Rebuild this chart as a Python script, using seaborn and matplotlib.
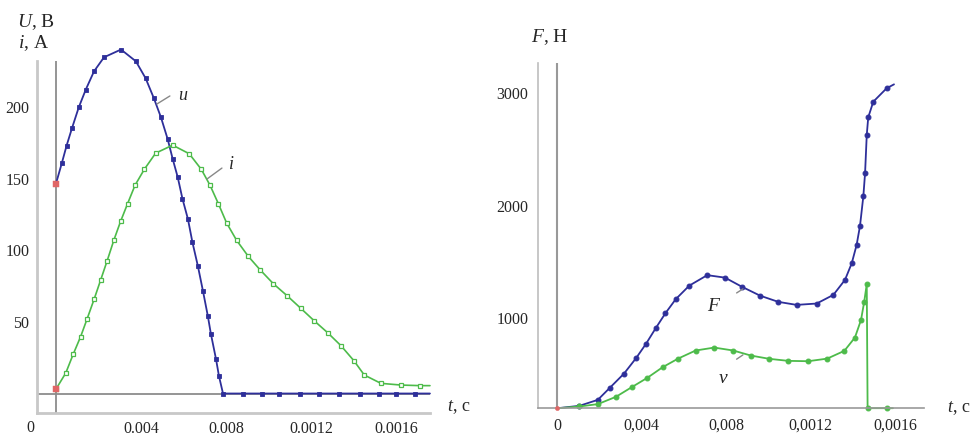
import matplotlib
matplotlib.use("Agg")
import matplotlib.pyplot as plt
from matplotlib.ticker import MultipleLocator
import seaborn as sns

# time axis is in the units the tick labels use (label "0.004" sits at 4)
# left panel: voltage u (V) and current i (A)
t_u = [0, 0.27, 0.50, 0.75, 1.07, 1.40, 1.79, 2.26, 3.06, 3.76, 4.22, 4.61, 4.94,
       5.26, 5.49, 5.73, 5.95, 6.21, 6.42, 6.68, 6.92, 7.15, 7.29, 7.53, 7.67, 7.86,
       8.8, 9.7, 10.5, 11.5, 12.4, 13.3, 14.3, 15.2, 16.0, 16.9, 17.6]
u_vals = [146.5, 160.5, 173, 185, 199.6, 212, 224.8, 234.6, 240, 231.8, 219.9, 205.9, 192.7,
          177.3, 163.8, 150.9, 136, 121.7, 105.6, 88.8, 71.3, 53.8, 41.6, 24.1, 12.2, 0,
          0, 0, 0, 0, 0, 0, 0, 0, 0, 0, 0]

t_i = [0, 0.46, 0.81, 1.16, 1.47, 1.79, 2.10, 2.41, 2.73, 3.04, 3.37, 3.72, 4.16, 4.69,
       5.49, 6.27, 6.84, 7.25, 7.64, 8.03, 8.50, 9.05, 9.60, 10.23, 10.88, 11.51, 12.14,
       12.78, 13.41, 14.02, 14.51, 15.29, 16.24, 17.13, 17.6]
i_vals = [3.1, 14.3, 27.4, 39.7, 52.3, 65.6, 79.1, 92.7, 107.3, 120.1, 132.5, 145.3, 156.5,
          167.7, 173.3, 167.3, 156.4, 145.3, 132.5, 119, 106.9, 95.7, 86.4, 76.6, 68.2,
          59.6, 50.9, 42.5, 33.4, 22.9, 12.9, 7.1, 5.9, 5.5, 5.5]

# right panel: force F and v (same axis, N)
t_F = [0, 1.06, 1.93, 2.51, 3.17, 3.74, 4.21, 4.67, 5.13, 5.62, 6.26, 7.11, 7.95, 8.74,
       9.61, 10.47, 11.34, 12.29, 13.08, 13.63, 13.95, 14.18, 14.34, 14.50, 14.58, 14.66,
       14.73, 14.97, 15.60, 15.95]
F_vals = [200, 222, 275, 384, 508, 645, 772, 911, 1044, 1169, 1289, 1382, 1360, 1280,
          1200, 1145, 1118, 1130, 1207, 1340, 1488, 1650, 1819, 2085, 2287, 2626,
          2783, 2922, 3041, 3076]

t_v = [0, 1.06, 1.93, 2.79, 3.54, 4.27, 5.00, 5.74, 6.56, 7.44, 8.34, 9.18, 10.05, 10.95,
       11.89, 12.79, 13.60, 14.10, 14.39, 14.54, 14.66, 14.70, 15.60, 15.9]
v_vals = [200, 216, 237, 302, 388, 470, 565, 642, 713, 739, 713, 668, 639, 621,
          618, 641, 710, 828, 985, 1147, 1302, 201, 201, 201]

left_xticks = [4, 8, 12, 16]
left_xlabels = ["0.004", "0.008", "0.0012", "0.0016"]
left_yticks = [50, 100, 150, 200]
right_xticks = [0, 4, 8, 12, 16]
right_xlabels = ["0", "0,004", "0,008", "0,0012", "0,0016"]
right_yticks = [1000, 2000, 3000]

blue = "#2e2f9a"
green = "#4dbb4a"
red = "#e06666"

sns.set_style("white")
plt.rcParams["font.family"] = ["Liberation Serif", "DejaVu Serif"]
plt.rcParams["mathtext.fontset"] = "custom"
plt.rcParams["mathtext.rm"] = "Liberation Serif"
plt.rcParams["mathtext.it"] = "Liberation Serif:italic"

fig = plt.figure(figsize=(9.71, 4.37), dpi=100)
ax1 = fig.add_axes([0.0381, 0.0549, 0.4047, 0.8055])
ax2 = fig.add_axes([0.5541, 0.0657, 0.3975, 0.790])

# ---- left panel
ax1.axhline(0, color="#8c8c8c", lw=1.3, zorder=1)
ax1.axvline(0, color="#8c8c8c", lw=1.3, zorder=1)
sns.lineplot(x=t_u, y=u_vals, ax=ax1, color=blue, lw=1.3, marker="s", markersize=3.2,
             markeredgecolor=blue, markeredgewidth=0.6, markevery=list(range(len(t_u) - 1)),
             estimator=None, sort=False, clip_on=False)
sns.lineplot(x=t_i, y=i_vals, ax=ax1, color=green, lw=1.2, marker="s", markersize=3.4,
             markerfacecolor="white", markeredgecolor=green, markeredgewidth=0.9,
             markevery=list(range(len(t_i) - 1)), estimator=None, sort=False, clip_on=False)
sns.scatterplot(x=[t_u[0], t_i[0]], y=[u_vals[0], i_vals[0]], ax=ax1, marker="s", s=16,
                color=red, edgecolor=None, zorder=5, clip_on=False)

ax1.plot([4.75, 5.36], [202, 207.6], color="#888888", lw=1)
ax1.text(5.75, 208, "u", fontsize=13, style="italic", va="center")
ax1.plot([7.11, 7.81], [149.7, 157.3], color="#888888", lw=1)
ax1.text(8.15, 160, "i", fontsize=13, style="italic", va="center")

ax1.set_xlim(-0.894, 17.6)
ax1.set_ylim(-13.6, 232)
ax1.set_xticks(left_xticks)
ax1.set_xticklabels(left_xlabels)
ax1.set_yticks(left_yticks)
ax1.xaxis.set_minor_locator(MultipleLocator(1))
ax1.yaxis.set_minor_locator(MultipleLocator(10))
ax1.tick_params(which="major", direction="inout", length=5, width=0.8, color="#666666",
                labelsize=11.5, pad=3)
ax1.tick_params(axis="x", which="major", pad=3.5)
ax1.tick_params(which="minor", direction="inout", length=3, width=0.7, color="#777777")
for side in ["top", "right"]:
    ax1.spines[side].set_visible(False)
for side in ["left", "bottom"]:
    ax1.spines[side].set_color("#c8c8c8")
    ax1.spines[side].set_linewidth(2)
ax1.set_xlabel("")
ax1.set_ylabel("")

# ---- right panel
ax2.axvline(0, color="#999999", lw=1.5, zorder=1)
sns.lineplot(x=t_F, y=F_vals, ax=ax2, color=blue, lw=1.3, marker="o", markersize=3.5,
             markeredgecolor=blue, markevery=list(range(1, len(t_F) - 1)),
             estimator=None, sort=False, clip_on=False)
sns.lineplot(x=t_v, y=v_vals, ax=ax2, color=green, lw=1.3, marker="o", markersize=3.5,
             markeredgecolor=green, markevery=list(range(1, len(t_v) - 1)),
             estimator=None, sort=False, clip_on=False)
sns.scatterplot(x=[t_F[0]], y=[F_vals[0]], ax=ax2, marker="o", s=10, color=red,
                edgecolor=None, zorder=5, clip_on=False)

ax2.plot([8.5, 8.8], [1224, 1260], color="#888888", lw=1)
ax2.text(7.37, 1103, "F", fontsize=14, style="italic", ha="center", va="center")
ax2.plot([8.5, 8.8], [636, 674], color="#888888", lw=1)
ax2.text(7.84, 468, "v", fontsize=14, style="italic", ha="center", va="center")

ax2.set_xlim(-0.9, 17.37)
ax2.set_ylim(200, 3265)
ax2.set_xticks(right_xticks)
ax2.set_xticklabels(right_xlabels)
ax2.set_yticks(right_yticks)
ax2.xaxis.set_minor_locator(MultipleLocator(1))
ax2.yaxis.set_minor_locator(MultipleLocator(100))
ax2.tick_params(which="major", direction="inout", length=4, width=0.7, color="#aaaaaa",
                labelsize=11.5, pad=5)
ax2.tick_params(which="minor", direction="inout", length=2.5, width=0.6, color="#cccccc")
for side in ["top", "right"]:
    ax2.spines[side].set_visible(False)
ax2.spines["left"].set_color("#bdbdbd")
ax2.spines["left"].set_linewidth(1.2)
ax2.spines["bottom"].set_color("#999999")
ax2.spines["bottom"].set_linewidth(1.2)
ax2.set_xlabel("")
ax2.set_ylabel("")

# axis titles (pixel positions turned into figure fractions)
W, H = 971, 437
fig.text(17 / W, 1 - 22 / H, "$U$, B", fontsize=14, va="center")
fig.text(18 / W, 1 - 43 / H, "$i$, A", fontsize=14, va="center")
fig.text(30 / W, 1 - 428 / H, "0", fontsize=11.5, ha="center", va="center")
fig.text(447 / W, 1 - 407 / H, "$t$, c", fontsize=13, va="center")
fig.text(531 / W, 1 - 37 / H, "$F$, H", fontsize=14, va="center")
fig.text(947 / W, 1 - 408 / H, "$t$, c", fontsize=13, va="center")

fig.savefig("out.png", dpi=100)
